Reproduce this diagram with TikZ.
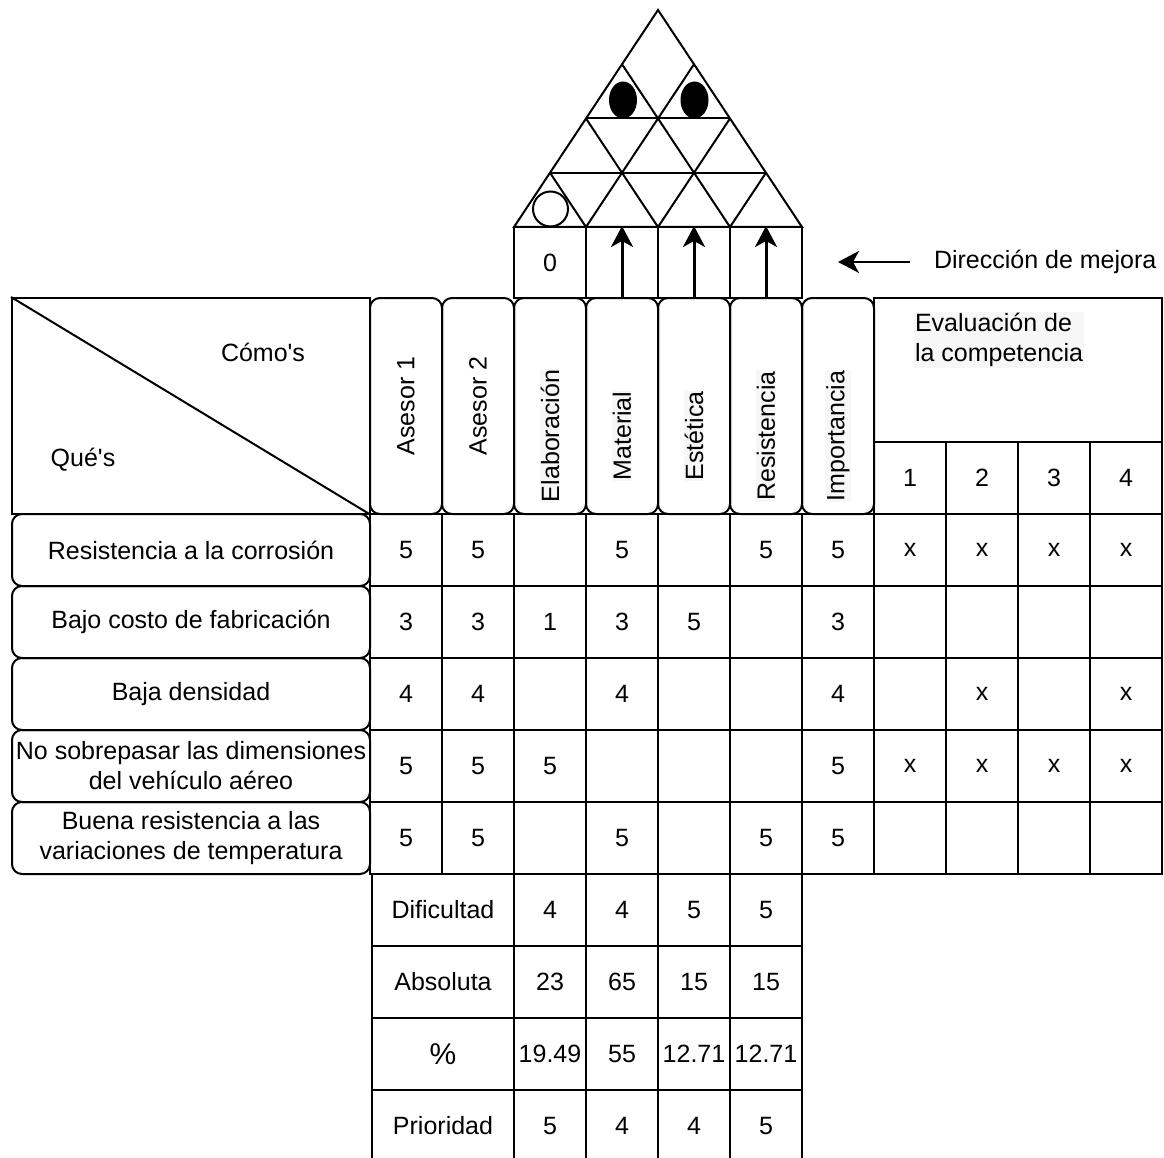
\documentclass[tikz,border=0pt]{standalone}
\usepackage{fontspec}
\setmainfont{Liberation Sans}
\usetikzlibrary{arrows.meta,shapes.geometric}
\begin{document}
\begin{tikzpicture}[x=1pt,y=-1pt,
  line width=2pt,
  every node/.style={font=\fontsize{25}{30}\selectfont},
  cell/.style={draw,minimum width=72pt,minimum height=72pt,inner sep=0pt},
  colbox/.style={draw,rounded corners=10pt,minimum width=72pt,minimum height=216pt,inner sep=0pt},
  rowbox/.style={draw,rounded corners=10pt,minimum width=358pt,minimum height=72pt,inner sep=0pt,align=center},
  vlabel/.style={rotate=90,fill=black!3,inner sep=1pt},
  tip/.style={-{Stealth[length=21pt,width=22pt,inset=6pt]}},
  improve/.style={line width=3pt,tip},
]
\useasboundingbox (0,0) rectangle (1164,1158);

% ---- roof (correlation matrix) ----
\coordinate (apex) at (658,10);
\coordinate (bl) at (514,227);
\coordinate (br) at (802,227);
\draw (apex) -- (bl) -- (br) -- cycle;
\draw (586,118.5) -- (730,118.5);
\draw (550,172.75) -- (766,172.75);
\draw (622,64.25) -- (730,227);
\draw (586,118.5) -- (658,227);
\draw (550,172.75) -- (586,227);
\draw (694,64.25) -- (586,227);
\draw (730,118.5) -- (658,227);
\draw (766,172.75) -- (730,227);
\node[ellipse,fill=black,minimum width=28pt,minimum height=37pt,inner sep=0pt] (strong1) at (623,100) {};
\node[ellipse,fill=black,minimum width=28pt,minimum height=37pt,inner sep=0pt] (strong2) at (694.5,100) {};
\node[circle,draw,minimum size=35pt,inner sep=0pt] (weak1) at (550.5,209) {};

% ---- direction of improvement ----
\node[cell,minimum height=71pt] (d1) at (550,262.5) {0};
\foreach \i/\x in {2/622,3/694,4/766}{
  \node[cell,minimum height=71pt] (d\i) at (\x,262.5) {};
  \draw[improve] (d\i.south) -- (d\i.north);
}
\node[anchor=west,inner sep=0pt] (dirtext) at (933,262) {Dirección de mejora};
\draw[line width=2.5pt,tip]
  ([xshift=-23pt]dirtext.west) -- ([xshift=-95pt]dirtext.west);

% ---- header ----
\node[draw,minimum width=358pt,minimum height=216pt,inner sep=0pt] (qc) at (191,406) {};
\draw (qc.north west) -- (qc.south east);
\node (como) at (263,352) {Cómo\textquotesingle s};
\node (que) at (83,460) {Qué\textquotesingle s};

\node[colbox] (h1) at (406,406) {};
\node[rotate=90] at (h1.center) {Asesor 1};
\node[colbox] (h2) at (478,406) {};
\node[rotate=90] at (h2.center) {Asesor 2};
\foreach \i/\x/\t in {3/550/Elaboración,4/622/Material,5/694/Estética,6/766/Resistencia,7/838/Importancia}{
  \node[colbox] (h\i) at (\x,406) {};
  \node[vlabel] at (\x,436) {\t};
}

\node[draw,minimum width=288pt,minimum height=144pt,inner sep=0pt] (eval) at (1018,370) {};
\node[anchor=north west,align=left,fill=black!3,inner sep=1pt] (evaltext) at (913,311)
  {Evaluación de\\la competencia};
\foreach \i in {1,...,4}{
  \node[cell] (e\i) at ({874+72*\i-36},478) {\i};
}

% ---- requirements (Qué's) ----
\foreach \r/\t in {1/Resistencia a la corrosión,
                   2/Bajo costo de fabricación,
                   3/Baja densidad,
                   4/{No sobrepasar las dimensiones\\del vehículo aéreo},
                   5/{Buena resistencia a las\\variaciones de temperatura}}{
  \node[rowbox] (q\r) at (191,{550+72*(\r-1)}) {\t};
}

% ---- relationship matrix and competitive evaluation ----
\foreach \r/\vals in {1/{5,5,,5,,5,5,x,x,x,x},
                      2/{3,3,1,3,5,,3,,,,},
                      3/{4,4,,4,,,4,,x,,x},
                      4/{5,5,5,,,,5,x,x,x,x},
                      5/{5,5,,5,,5,5,,,,}}{
  \foreach \v [count=\c] in \vals {
    \node[cell] (m\r-\c) at ({406+72*(\c-1)},{550+72*(\r-1)}) {\v};
  }
}

% ---- technical evaluation ----
\foreach \r/\t/\vals in {1/Dificultad/{4,4,5,5},
                         2/Absoluta/{23,65,15,15},
                         3/{\fontsize{30}{30}\selectfont\%}/{19.49,55,12.71,12.71},
                         4/Prioridad/{5,4,4,5}}{
  \node[cell,minimum width=142pt] (b\r) at (443,{910+72*(\r-1)}) {\t};
  \foreach \v [count=\c] in \vals {
    \node[cell] (b\r-\c) at ({550+72*(\c-1)},{910+72*(\r-1)}) {\v};
  }
}
\end{tikzpicture}
\end{document}
